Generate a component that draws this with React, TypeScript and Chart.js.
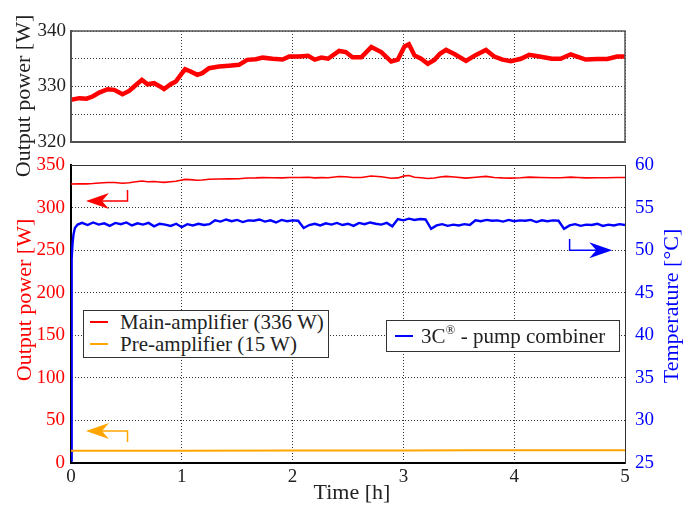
import React, { useEffect, useRef } from "react";
import { Chart, registerables } from "chart.js";

Chart.register(...registerables);

// ---------- data ----------
const hourTicks = [0, 1, 2, 3, 4, 5];

const powerHours = [
  0, 0.075, 0.14, 0.195, 0.255, 0.33, 0.39, 0.465, 0.525, 0.57, 0.64, 0.69, 0.75, 0.795, 0.84, 0.9,
  0.946, 0.99, 1.03, 1.07, 1.14, 1.185, 1.246, 1.336, 1.426, 1.516, 1.59, 1.667, 1.73, 1.82, 1.91,
  1.97, 2.06, 2.14, 2.2, 2.26, 2.32, 2.42, 2.48, 2.54, 2.62, 2.71, 2.8, 2.89, 2.95, 3.01, 3.05, 3.1,
  3.16, 3.22, 3.28, 3.33, 3.385, 3.46, 3.565, 3.655, 3.745, 3.82, 3.895, 3.97, 4.06, 4.135, 4.24,
  4.34, 4.42, 4.51, 4.575, 4.645, 4.75, 4.84, 4.93, 5.0,
];
const mainPower = [
  327.6, 327.9, 327.8, 328.2, 328.9, 329.5, 329.4, 328.6, 329.2, 330.0, 331.2, 330.4, 330.6, 330.1,
  329.55, 330.4, 330.9, 332.1, 333.1, 332.8, 332.1, 332.4, 333.3, 333.6, 333.75, 333.9, 334.8, 334.9,
  335.2, 335.0, 334.85, 335.4, 335.4, 335.55, 334.85, 335.2, 335.0, 336.4, 336.2, 335.25, 335.25,
  337.1, 336.2, 334.5, 334.85, 337.2, 337.6, 335.6, 335.0, 334.1, 334.8, 335.9, 336.6, 335.85, 334.6,
  335.7, 336.6, 335.4, 334.85, 334.55, 335.0, 335.7, 335.35, 335.0, 335.0, 335.8, 335.35, 334.85,
  334.95, 334.95, 335.4, 335.4,
];

const preHours = [0, 1, 2, 3, 3.6, 4, 5];
const prePower = [14.4, 14.5, 14.6, 14.7, 14.9, 15.0, 15.1];

const tempHours = [
  0, 0.004, 0.008, 0.014, 0.022, 0.035, 0.06,
  0.1, 0.15, 0.2, 0.25, 0.3, 0.35, 0.4, 0.45, 0.5, 0.55, 0.6, 0.65, 0.7, 0.75, 0.8, 0.85,
  0.9, 0.95, 1.0, 1.05, 1.1, 1.15, 1.2, 1.25,
  1.3, 1.35, 1.4, 1.45, 1.5, 1.55, 1.6, 1.65, 1.7, 1.75, 1.8, 1.85, 1.9, 1.95, 2.0, 2.05,
  2.1, 2.15, 2.2, 2.25, 2.3, 2.35, 2.4, 2.45, 2.5, 2.55, 2.6, 2.65, 2.7, 2.75, 2.8, 2.85, 2.9,
  2.95, 3.0, 3.05, 3.1, 3.15, 3.2,
  3.25, 3.3, 3.35, 3.4, 3.45, 3.5, 3.55, 3.6,
  3.65, 3.7, 3.75, 3.8, 3.85, 3.9, 3.95, 4.0, 4.05, 4.1, 4.15, 4.2, 4.25, 4.3, 4.35, 4.4,
  4.45, 4.5, 4.55, 4.6, 4.65, 4.7, 4.75, 4.8, 4.85, 4.9, 4.95, 5.0,
];
const tempC = [
  25.3, 44, 49, 50.8, 51.8, 52.6, 53.0,
  53.2, 52.95, 53.25, 53.0, 53.15, 52.85, 53.2, 53.05, 53.25, 52.9, 53.15, 53.0, 53.2, 52.8, 53.1, 53.0,
  52.85, 53.1, 52.7, 53.05, 52.9, 53.1, 52.95, 53.05,
  53.5, 53.35, 53.6, 53.4, 53.55, 53.3, 53.5, 53.45, 53.6, 53.35, 53.5, 53.25, 53.55, 53.4, 53.5, 53.45,
  52.6, 52.95, 53.1, 52.9, 53.15, 53.0, 53.2, 52.95, 53.1, 52.85, 53.2, 53.05, 53.25, 53.1, 53.0, 53.2, 52.8,
  53.65, 53.5, 53.7, 53.55, 53.65, 53.6,
  52.5, 52.9, 53.05, 52.85, 53.0, 52.9, 53.05, 52.95,
  53.5, 53.4, 53.55, 53.45, 53.5, 53.35, 53.55, 53.4, 53.5, 53.45, 53.55, 53.3, 53.5, 53.4, 53.5, 53.45,
  52.5, 52.9, 53.05, 52.85, 53.0, 52.95, 53.1, 52.85, 53.0, 52.9, 53.05, 52.95,
];

// arrow annotations (data units)
const arrowNotes = [
  { axis: "y", color: "#ff0000", hour: 0.51, fromValue: 320.6, turnValue: 307.7, tipHour: 0.135 },
  { axis: "y", color: "#ffa500", hour: 0.51, fromValue: 24.7, turnValue: 37.6, tipHour: 0.135 },
  { axis: "yT", color: "#0000ff", hour: 4.5, fromValue: 51.3, turnValue: 50.0, tipHour: 4.885 },
];

// ---------- styling ----------
const FONT = '"Liberation Serif", "Times New Roman", serif';
const tickFont = { family: FONT, size: 19 };
const GRID = "rgba(30,30,30,0.9)";
const DASH = [1, 2];

const pts = (xs: number[], ys: number[]) => xs.map((x, i) => ({ x, y: ys[i] }));

function rotatedText(ctx: CanvasRenderingContext2D, text: string, x: number, y: number, color: string) {
  ctx.save();
  ctx.translate(x, y);
  ctx.rotate(-Math.PI / 2);
  ctx.textAlign = "center";
  ctx.textBaseline = "middle";
  ctx.fillStyle = color;
  ctx.font = `22px ${FONT}`;
  ctx.fillText(text, 0, 0);
  ctx.restore();
}

const topPlugin = {
  id: "topDecor",
  afterDraw(chart: any) {
    const { ctx, chartArea: a } = chart;
    ctx.save();
    ctx.strokeStyle = "#555";
    ctx.lineWidth = 1.5;
    ctx.strokeRect(a.left, a.top, a.right - a.left, a.bottom - a.top);
    ctx.restore();
    rotatedText(ctx, "Output power [W]", 24, 96, "#222");
  },
};

const bottomPlugin = {
  id: "bottomDecor",
  afterDatasetsDraw(chart: any) {
    const { ctx } = chart;
    const xs = chart.scales.x;
    arrowNotes.forEach((n) => {
      const ys = chart.scales[n.axis];
      const x0 = xs.getPixelForValue(n.hour);
      const y0 = ys.getPixelForValue(n.fromValue);
      const y1 = ys.getPixelForValue(n.turnValue);
      const tip = xs.getPixelForValue(n.tipHour);
      const dir = tip < x0 ? -1 : 1;
      ctx.save();
      ctx.strokeStyle = n.color;
      ctx.fillStyle = n.color;
      ctx.lineWidth = 1.5;
      ctx.beginPath();
      ctx.moveTo(x0, y0);
      ctx.lineTo(x0, y1);
      ctx.lineTo(tip - dir * 14, y1);
      ctx.stroke();
      ctx.beginPath();
      ctx.moveTo(tip, y1);
      ctx.lineTo(tip - dir * 23, y1 - 8);
      ctx.lineTo(tip - dir * 16, y1);
      ctx.lineTo(tip - dir * 23, y1 + 8);
      ctx.closePath();
      ctx.fill();
      ctx.restore();
    });
  },
  afterDraw(chart: any) {
    const { ctx, chartArea: a } = chart;
    ctx.save();
    ctx.strokeStyle = "#333";
    ctx.lineWidth = 1;
    ctx.beginPath();
    ctx.moveTo(a.left, a.top + 0.5);
    ctx.lineTo(a.right + 0.5, a.top + 0.5);
    ctx.lineTo(a.right + 0.5, a.bottom);
    ctx.stroke();
    ctx.restore();
    rotatedText(ctx, "Output power [W]", 25, 300, "#ff0000");
    rotatedText(ctx, "Temperature [°C]", 672, 306, "#0000ff");
    ctx.save();
    ctx.font = `22px ${FONT}`;
    ctx.fillStyle = "#222";
    ctx.textAlign = "center";
    ctx.textBaseline = "middle";
    ctx.fillText("Time [h]", 352, 493);
    ctx.restore();
  },
};

export default function App() {
  const topRef = useRef<HTMLCanvasElement>(null);
  const botRef = useRef<HTMLCanvasElement>(null);

  useEffect(() => {
    const xTickCb = (v: any) => (hourTicks.includes(Number(v)) ? String(v) : "");
    const top = new Chart(topRef.current as HTMLCanvasElement, {
      type: "line",
      data: {
        datasets: [
          {
            data: pts(powerHours, mainPower),
            borderColor: "#ff0000",
            borderWidth: 4.5,
            pointRadius: 0,
            tension: 0,
          },
        ],
      },
      options: {
        animation: false,
        responsive: false,
        devicePixelRatio: 1,
        layout: { padding: { top: 31, right: 69, bottom: 366, left: 0 } },
        plugins: { legend: { display: false }, tooltip: { enabled: false } },
        scales: {
          x: {
            type: "linear",
            min: 0,
            max: 5,
            ticks: { display: false, stepSize: 1 },
            grid: { color: GRID, drawTicks: false, lineWidth: 1 },
            border: { display: true, color: "#444", width: 2, dash: DASH },
            afterFit: (s: any) => {
              s.height = 0;
            },
          },
          y: {
            min: 320,
            max: 340,
            ticks: {
              stepSize: 5,
              padding: 5,
              color: "#222",
              font: tickFont,
              callback: (v: any) => (Number(v) % 10 === 0 ? String(v) : ""),
            },
            grid: { color: GRID, drawTicks: false, lineWidth: 1 },
            border: { display: true, color: "#444", width: 2, dash: DASH },
            afterFit: (s: any) => {
              s.width = 71;
            },
          },
        },
      } as any,
      plugins: [topPlugin],
    });

    const bot = new Chart(botRef.current as HTMLCanvasElement, {
      type: "line",
      data: {
        datasets: [
          {
            label: "Main-amplifier (336 W)",
            data: pts(powerHours, mainPower),
            borderColor: "#ff0000",
            borderWidth: 1.6,
            pointRadius: 0,
            yAxisID: "y",
          },
          {
            label: "Pre-amplifier (15 W)",
            data: pts(preHours, prePower),
            borderColor: "#ffa500",
            borderWidth: 2,
            pointRadius: 0,
            yAxisID: "y",
          },
          {
            label: "3C® - pump combiner",
            data: pts(tempHours, tempC),
            borderColor: "#0000ff",
            borderWidth: 2.4,
            pointRadius: 0,
            yAxisID: "yT",
          },
        ],
      },
      options: {
        animation: false,
        responsive: false,
        devicePixelRatio: 1,
        layout: { padding: { top: 165, right: 0, bottom: 0, left: 0 } },
        plugins: { legend: { display: false }, tooltip: { enabled: false } },
        scales: {
          x: {
            type: "linear",
            min: 0,
            max: 5,
            ticks: { stepSize: 1, padding: 3, color: "#222", font: tickFont, callback: xTickCb },
            grid: { color: GRID, drawTicks: false, lineWidth: 1 },
            border: { display: true, color: "#000", width: 2, dash: DASH },
            afterFit: (s: any) => {
              s.height = 45;
            },
          },
          y: {
            position: "left",
            min: 0,
            max: 350,
            ticks: { stepSize: 50, padding: 6, color: "#ff0000", font: tickFont },
            grid: { color: GRID, drawTicks: false, lineWidth: 1 },
            border: { display: true, color: "#000", width: 2, dash: DASH },
            afterFit: (s: any) => {
              s.width = 71;
            },
          },
          yT: {
            position: "right",
            min: 25,
            max: 60,
            ticks: { stepSize: 5, padding: 10, color: "#0000ff", font: tickFont },
            grid: { display: false, drawTicks: false },
            border: { display: true, color: "#333", width: 1 },
            afterFit: (s: any) => {
              s.width = 69;
            },
          },
        },
      } as any,
      plugins: [bottomPlugin],
    });

    return () => {
      top.destroy();
      bot.destroy();
    };
  }, []);

  const legendText: React.CSSProperties = {
    position: "absolute",
    fontFamily: FONT,
    fontSize: 21,
    lineHeight: "22px",
    color: "#222",
    whiteSpace: "nowrap",
  };
  const sample = (left: number, top: number, color: string): React.CSSProperties => ({
    position: "absolute",
    left,
    top,
    width: 18,
    height: 2,
    background: color,
  });

  return (
    <div style={{ position: "absolute", left: 0, top: 0, width: 694, height: 508, background: "#fff" }}>
      <canvas
        ref={botRef}
        width={694}
        height={508}
        style={{ position: "absolute", left: 0, top: 0, width: 694, height: 508 }}
      />
      <canvas
        ref={topRef}
        width={694}
        height={508}
        style={{ position: "absolute", left: 0, top: 0, width: 694, height: 508 }}
      />
      <div
        style={{
          position: "absolute",
          left: 83,
          top: 310,
          width: 246,
          height: 48,
          border: "1px solid #333",
          background: "#fff",
          boxSizing: "border-box",
        }}
      >
        <div style={sample(6, 10, "#ff0000")} />
        <div style={{ ...legendText, left: 36, top: 0 }}>Main-amplifier (336 W)</div>
        <div style={sample(6, 32, "#ffa500")} />
        <div style={{ ...legendText, left: 36, top: 22 }}>Pre-amplifier (15 W)</div>
      </div>
      <div
        style={{
          position: "absolute",
          left: 386,
          top: 320,
          width: 234,
          height: 32,
          border: "1px solid #333",
          background: "#fff",
          boxSizing: "border-box",
        }}
      >
        <div style={sample(8, 14, "#0000ff")} />
        <div style={{ ...legendText, left: 34, top: 4 }}>
          3C<sup style={{ fontSize: "0.62em", lineHeight: 0, verticalAlign: "0.7em" }}>®</sup> - pump combiner
        </div>
      </div>
    </div>
  );
}
